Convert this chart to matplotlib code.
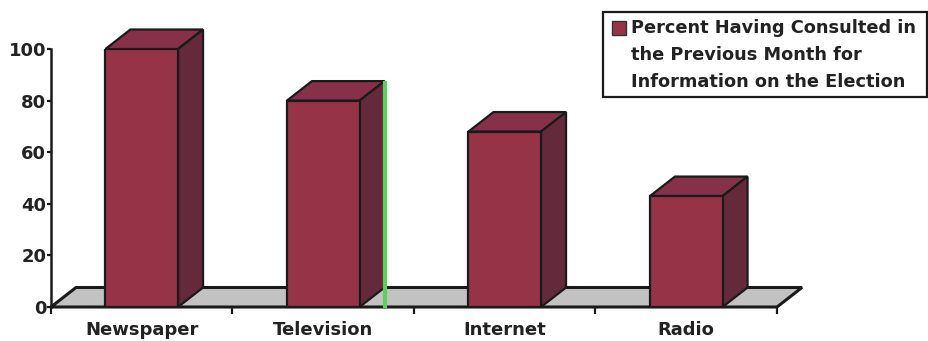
import matplotlib
matplotlib.use("Agg")
import matplotlib.pyplot as plt
from matplotlib.patches import Polygon, Rectangle
import numpy as np

categories = ["Newspaper", "Television", "Internet", "Radio"]
values = [100, 80, 68, 43]
yticks = [0, 20, 40, 60, 80, 100]
legend_lines = ["Percent Having Consulted in",
                "the Previous Month for",
                "Information on the Election"]

W, H = 929, 341
fig = plt.figure(figsize=(W / 100, H / 100), dpi=100)
ax_l, ax_r, ax_b, ax_t = 51, 777, 307, 49
ax = fig.add_axes([ax_l / W, (H - ax_b) / H, (ax_r - ax_l) / W, (ax_b - ax_t) / H])
ax.set_xlim(-0.5, len(categories) - 0.5)
ax.set_ylim(0, 100)

px_x = (ax_r - ax_l) / len(categories)
px_y = (ax_b - ax_t) / 100.0
DX = 25 / px_x
DY = 19.5 / px_y
BW = 0.40

FRONT = "#963347"
TOP = "#86304a"
SIDE = "#65293c"
FLOOR = "#c2c2c2"
EDGE = "#1a1a1a"

# floor
x0, x1 = -0.5, len(categories) - 0.5
floor = Polygon([(x0, 0), (x1, 0), (x1 + DX, DY), (x0 + DX, DY)], closed=True,
                facecolor=FLOOR, edgecolor=EDGE, lw=2.2, clip_on=False, zorder=1)
ax.add_patch(floor)

xs = np.arange(len(categories))
ax.bar(xs, values, width=BW, color=FRONT, edgecolor=EDGE, lw=1.6, zorder=4)
for x, v in zip(xs, values):
    l, r = x - BW / 2, x + BW / 2
    top = Polygon([(l, v), (r, v), (r + DX, v + DY), (l + DX, v + DY)], closed=True,
                  facecolor=TOP, edgecolor=EDGE, lw=1.6, clip_on=False, zorder=3)
    side = Polygon([(r, 0), (r + DX, DY), (r + DX, v + DY), (r, v)], closed=True,
                   facecolor=SIDE, edgecolor=EDGE, lw=1.6, clip_on=False, zorder=3)
    ax.add_patch(top)
    ax.add_patch(side)

# scan artifact: green line on television bar back edge
tv = 1
ax.plot([tv + BW / 2 + DX, tv + BW / 2 + DX], [-0.5, values[tv] + DY], color="#5ccf5c",
        lw=3, zorder=5, clip_on=False, solid_capstyle="butt")

for s in ["top", "right", "bottom"]:
    ax.spines[s].set_visible(False)
ax.spines["left"].set_linewidth(1.8)
ax.spines["left"].set_color(EDGE)
ax.spines["left"].set_zorder(6)
ax.set_yticks(yticks)
ax.set_yticklabels([str(t) for t in yticks], fontsize=13, fontweight="bold",
                   color="#222222", fontfamily="DejaVu Sans")
ax.tick_params(axis="y", direction="out", length=3, width=1.6, pad=0.5, color=EDGE)
ax.set_xticks(xs)
ax.set_xticklabels(categories, fontsize=13, fontweight="bold", color="#222222",
                   fontfamily="DejaVu Sans")
ax.set_xticks(np.arange(-0.5, len(categories), 1.0), minor=True)
ax.tick_params(axis="x", which="major", length=0, pad=10)
ax.tick_params(axis="x", which="minor", length=5, width=1.6, direction="out", color=EDGE)
ax.patch.set_visible(False)

# legend
lx0, ly0, lx1, ly1 = 603, 12, 927, 97
fig.patches.append(Rectangle((lx0 / W, 1 - ly1 / H), (lx1 - lx0) / W, (ly1 - ly0) / H,
                             transform=fig.transFigure, facecolor="white",
                             edgecolor=EDGE, lw=1.6))
fig.patches.append(Rectangle((612 / W, 1 - 35 / H), 14 / W, 14 / H,
                             transform=fig.transFigure, facecolor=FRONT,
                             edgecolor="#333333", lw=1.0))
for i, line in enumerate(legend_lines):
    fig.text(631 / W, 1 - (33.3 + 26.7 * i) / H, line, fontsize=12.8, fontweight="bold",
             color="#222222", va="baseline", ha="left", fontfamily="DejaVu Sans")

fig.savefig("out.png", dpi=100)
